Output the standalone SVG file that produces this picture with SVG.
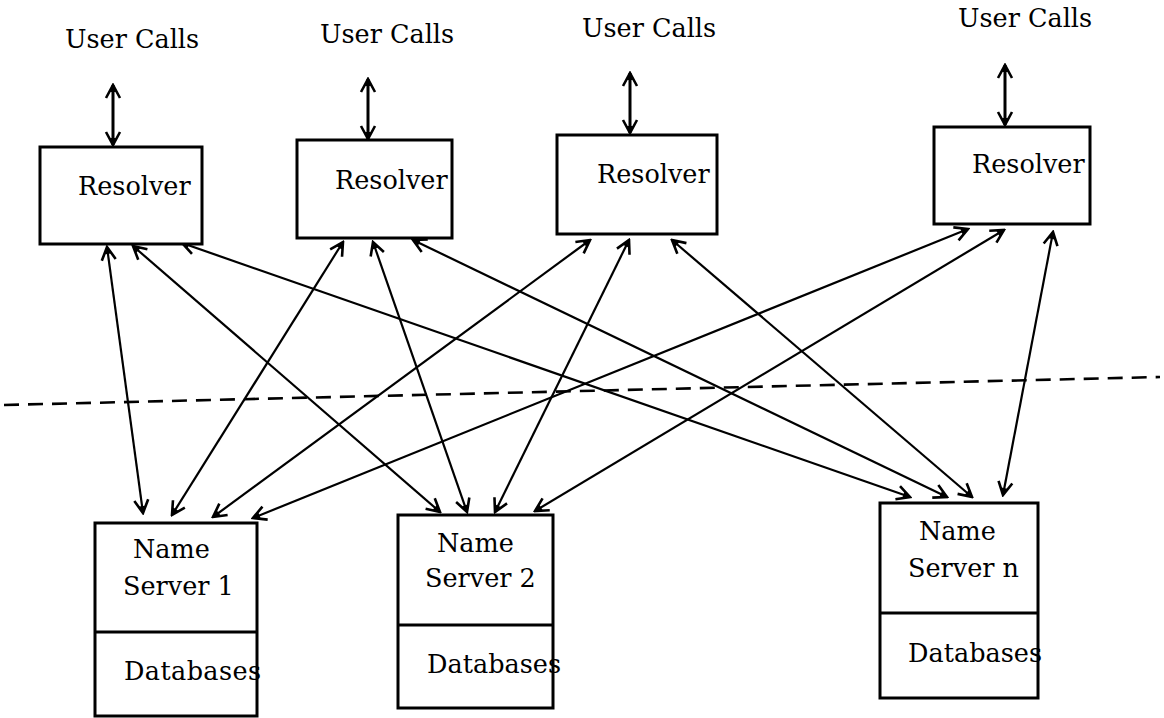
<svg xmlns="http://www.w3.org/2000/svg" width="1164" height="718" viewBox="0 0 1164 718">
  <style>
    .box { fill: #fff; stroke: #000; stroke-width: 3; }
    .div { stroke: #000; stroke-width: 3; }
    .lbl { font-family: "DejaVu Serif", "Liberation Serif", serif; font-size: 25.5px; fill: #000; }
    .con { stroke: #000; stroke-width: 2.2; fill: none; marker-start: url(#ah); marker-end: url(#ah); }
    .con2 { stroke: #000; stroke-width: 3; fill: none; marker-start: url(#ah); marker-end: url(#ah); }
    .dash { stroke: #000; stroke-width: 2.6; stroke-dasharray: 15 9; fill: none; }
  </style>
  <defs>
    <marker id="ah" viewBox="-16 -9 18 18" markerWidth="18" markerHeight="18" refX="0" refY="0" orient="auto-start-reverse" markerUnits="userSpaceOnUse">
      <path d="M-13,-7 L0,0 L-13,7" fill="none" stroke="#000" stroke-width="2.6"/>
      <path d="M-7,-3 L0,0 L-7,3 Z" fill="#000"/>
    </marker>
  </defs>
  <rect width="1164" height="718" fill="#fff"/>

  <g id="connectors">
    <line class="con2" x1="113" y1="85" x2="113" y2="145"/>
    <line class="con2" x1="368" y1="79" x2="368" y2="139"/>
    <line class="con2" x1="630" y1="73" x2="630" y2="133"/>
    <line class="con2" x1="1005" y1="65" x2="1005" y2="125"/>

    <line class="con" x1="107" y1="247" x2="143" y2="513"/>
    <line class="con" x1="133" y1="246" x2="440" y2="512"/>
    <line class="con" x1="182" y1="243" x2="910" y2="497"/>
    <line class="con" x1="343" y1="242" x2="172" y2="515"/>
    <line class="con" x1="373" y1="242" x2="467" y2="512"/>
    <line class="con" x1="413" y1="240" x2="947" y2="497"/>
    <line class="con" x1="590" y1="240" x2="213" y2="517"/>
    <line class="con" x1="629" y1="240" x2="495" y2="512"/>
    <line class="con" x1="672" y1="240" x2="972" y2="497"/>
    <line class="con" x1="968" y1="229" x2="253" y2="518"/>
    <line class="con" x1="1004" y1="230" x2="535" y2="511"/>
    <line class="con" x1="1053" y1="232" x2="1003" y2="495"/>

    <line class="dash" x1="4" y1="405" x2="1160" y2="377"/>
  </g>

  <g id="uc1"><text class="lbl" x="65" y="48">User Calls</text></g>
  <g id="uc2"><text class="lbl" x="320" y="43">User Calls</text></g>
  <g id="uc3"><text class="lbl" x="582" y="37">User Calls</text></g>
  <g id="uc4"><text class="lbl" x="958" y="27">User Calls</text></g>

  <g id="resolver1">
    <rect class="box" x="40" y="147" width="162" height="97"/>
    <text class="lbl" x="78" y="195">Resolver</text>
  </g>
  <g id="resolver2">
    <rect class="box" x="297" y="140" width="155" height="98"/>
    <text class="lbl" x="335" y="189">Resolver</text>
  </g>
  <g id="resolver3">
    <rect class="box" x="557" y="135" width="160" height="99"/>
    <text class="lbl" x="597" y="183">Resolver</text>
  </g>
  <g id="resolver4">
    <rect class="box" x="934" y="127" width="156" height="97"/>
    <text class="lbl" x="972" y="173">Resolver</text>
  </g>

  <g id="nameserver1">
    <rect class="box" x="95" y="523" width="162" height="193"/>
    <line class="div" x1="95" y1="632" x2="257" y2="632"/>
    <text class="lbl" x="133" y="558">Name</text>
    <text class="lbl" x="123" y="595">Server 1</text>
    <text class="lbl" x="124" y="680" textLength="137">Databases</text>
  </g>
  <g id="nameserver2">
    <rect class="box" x="398" y="515" width="155" height="193"/>
    <line class="div" x1="398" y1="625" x2="553" y2="625"/>
    <text class="lbl" x="437" y="552">Name</text>
    <text class="lbl" x="425" y="587">Server 2</text>
    <text class="lbl" x="427" y="673" textLength="134">Databases</text>
  </g>
  <g id="nameservern">
    <rect class="box" x="880" y="503" width="158" height="195"/>
    <line class="div" x1="880" y1="613" x2="1038" y2="613"/>
    <text class="lbl" x="919" y="540">Name</text>
    <text class="lbl" x="908" y="577">Server n</text>
    <text class="lbl" x="908" y="662" textLength="134">Databases</text>
  </g>
</svg>
